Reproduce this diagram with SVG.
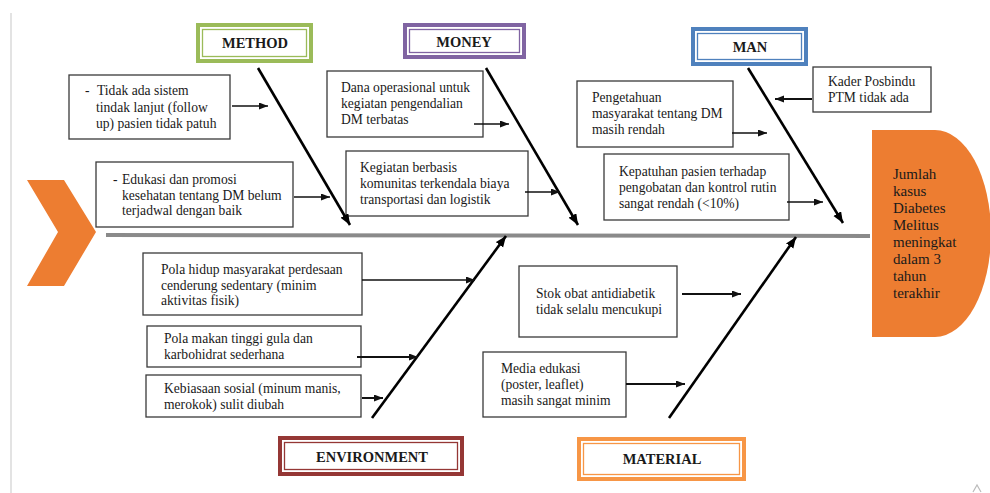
<svg xmlns="http://www.w3.org/2000/svg" width="990" height="493" viewBox="0 0 990 493">
<defs>
<style>
.t{font-family:"Liberation Serif","Times New Roman",serif;font-size:13.6px;fill:#1a1a1a}
.h{font-family:"Liberation Serif","Times New Roman",serif;font-size:15px;fill:#1a1a1a}
.cat{font-family:"Liberation Serif","Times New Roman",serif;font-size:14.5px;font-weight:bold;fill:#1a1a1a;text-anchor:middle}
.box{fill:#fff;stroke:#3a3a3a;stroke-width:1.3}
.ar{fill:none;stroke:#111;stroke-width:1.3;marker-end:url(#sa)}
.bone{fill:none;stroke:#000;stroke-width:2.6;marker-end:url(#ba)}
.w{fill:#fff}
</style>
<marker id="sa" markerUnits="userSpaceOnUse" markerWidth="10" markerHeight="8" refX="9" refY="3.5" orient="auto"><path d="M0,0 L9,3.5 L0,7 z" fill="#111"/></marker>
<marker id="ba" markerUnits="userSpaceOnUse" markerWidth="12" markerHeight="10" refX="11" refY="4.5" orient="auto"><path d="M0,0 L11,4.5 L0,9 z" fill="#000"/></marker>
</defs>
<rect width="990" height="493" fill="#fff"/>
<line x1="11" y1="13" x2="11" y2="493" stroke="#d0d0d0" stroke-width="1.2"/>
<polyline points="973,492 977,485 981,492" fill="none" stroke="#bbb" stroke-width="1.2"/>

<g id="tail"><polygon points="27,180 64,180 96,232 64,286 27,286 58,232" fill="#ED7D31"/></g>
<g id="spine"><line x1="106" y1="235" x2="870" y2="236" stroke="#8a8a8a" stroke-width="4"/></g>

<g id="head">
<path d="M872,130 H935 A56,103.5 0 0 1 935,337 H872 Z" fill="#ED7D31"/>
<text class="h" x="893"><tspan x="893" y="179">Jumlah</tspan><tspan x="893" y="196">kasus</tspan><tspan x="893" y="213">Diabetes</tspan><tspan x="893" y="230">Melitus</tspan><tspan x="893" y="247">meningkat</tspan><tspan x="893" y="264">dalam 3</tspan><tspan x="893" y="281">tahun</tspan><tspan x="893" y="298">terakhir</tspan></text>
</g>

<g id="cat-method">
<rect x="198" y="25" width="113" height="36" class="w" stroke="#9BBB59" stroke-width="4"/>
<rect x="202.5" y="29.5" width="104" height="27" fill="none" stroke="#9BBB59" stroke-width="1.3"/>
<text class="cat" x="255" y="48">METHOD</text>
</g>
<g id="cat-money">
<rect x="405" y="25" width="119" height="32" class="w" stroke="#8064A2" stroke-width="4"/>
<rect x="409.5" y="29.5" width="110" height="23" fill="none" stroke="#8064A2" stroke-width="1.3"/>
<text class="cat" x="464" y="47">MONEY</text>
</g>
<g id="cat-man">
<rect x="693" y="29" width="113" height="35" class="w" stroke="#4F81BD" stroke-width="4"/>
<rect x="697.5" y="33.5" width="104" height="26" fill="none" stroke="#4F81BD" stroke-width="1.3"/>
<text class="cat" x="750" y="52">MAN</text>
</g>
<g id="cat-environment">
<rect x="280" y="438" width="182" height="36" class="w" stroke="#953735" stroke-width="4"/>
<rect x="284.5" y="442.5" width="173" height="27" fill="none" stroke="#953735" stroke-width="1.3"/>
<text class="cat" x="372" y="462">ENVIRONMENT</text>
</g>
<g id="cat-material">
<rect x="579" y="439" width="165" height="40" class="w" stroke="#F79646" stroke-width="4"/>
<rect x="583.5" y="443.5" width="156" height="31" fill="none" stroke="#F79646" stroke-width="1.3"/>
<text class="cat" x="662" y="464">MATERIAL</text>
</g>

<g id="c-method-1">
<rect x="69" y="75" width="161" height="64" class="box"/>
<text class="t"><tspan x="85" y="95">-</tspan><tspan x="97" y="95">Tidak ada sistem</tspan><tspan x="96" y="112">tindak lanjut (follow</tspan><tspan x="96" y="128">up) pasien tidak patuh</tspan></text>
</g>
<g id="c-method-2">
<rect x="96" y="162" width="197" height="65" class="box"/>
<text class="t"><tspan x="113" y="184">-</tspan><tspan x="122" y="184">Edukasi dan promosi</tspan><tspan x="122" y="200">kesehatan tentang DM belum</tspan><tspan x="122" y="215">terjadwal dengan baik</tspan></text>
</g>
<g id="c-money-1">
<rect x="327" y="71" width="156" height="66" class="box"/>
<text class="t"><tspan x="341" y="92">Dana operasional untuk</tspan><tspan x="341" y="108">kegiatan pengendalian</tspan><tspan x="341" y="124">DM terbatas</tspan></text>
</g>
<g id="c-money-2">
<rect x="346" y="151" width="182" height="65" class="box"/>
<text class="t"><tspan x="360" y="172">Kegiatan berbasis</tspan><tspan x="360" y="188">komunitas terkendala biaya</tspan><tspan x="360" y="204">transportasi dan logistik</tspan></text>
</g>
<g id="c-man-1">
<rect x="577" y="81" width="156" height="66" class="box"/>
<text class="t"><tspan x="592" y="102">Pengetahuan</tspan><tspan x="592" y="118">masyarakat tentang DM</tspan><tspan x="592" y="134">masih rendah</tspan></text>
</g>
<g id="c-man-2">
<rect x="604" y="154" width="185" height="66" class="box"/>
<text class="t"><tspan x="619" y="176">Kepatuhan pasien terhadap</tspan><tspan x="619" y="192">pengobatan dan kontrol rutin</tspan><tspan x="619" y="208">sangat rendah (&lt;10%)</tspan></text>
</g>
<g id="c-man-3">
<rect x="813" y="67" width="118" height="45" class="box"/>
<text class="t"><tspan x="828" y="86">Kader Posbindu</tspan><tspan x="828" y="102">PTM tidak ada</tspan></text>
</g>
<g id="c-env-1">
<rect x="143" y="253" width="219" height="62" class="box"/>
<text class="t"><tspan x="161" y="274">Pola hidup masyarakat perdesaan</tspan><tspan x="161" y="290">cenderung sedentary (minim</tspan><tspan x="161" y="305">aktivitas fisik)</tspan></text>
</g>
<g id="c-env-2">
<rect x="147" y="326" width="214" height="41" class="box"/>
<text class="t"><tspan x="164" y="343">Pola makan tinggi gula dan</tspan><tspan x="164" y="359">karbohidrat sederhana</tspan></text>
</g>
<g id="c-env-3">
<rect x="146" y="375" width="215" height="42" class="box"/>
<text class="t"><tspan x="164" y="393">Kebiasaan sosial (minum manis,</tspan><tspan x="164" y="409">merokok) sulit diubah</tspan></text>
</g>
<g id="c-mat-1">
<rect x="519" y="266" width="158" height="71" class="box"/>
<text class="t"><tspan x="536" y="298">Stok obat antidiabetik</tspan><tspan x="536" y="314">tidak selalu mencukupi</tspan></text>
</g>
<g id="c-mat-2">
<rect x="483" y="352" width="143" height="65" class="box"/>
<text class="t"><tspan x="501" y="373">Media edukasi</tspan><tspan x="501" y="389">(poster, leaflet)</tspan><tspan x="501" y="405">masih sangat minim</tspan></text>
</g>

<g id="connectors">
<line class="bone" x1="258" y1="68" x2="350" y2="225"/>
<line class="bone" x1="486" y1="68" x2="578" y2="225"/>
<line class="bone" x1="748" y1="68" x2="843" y2="223"/>
<line class="bone" x1="372" y1="418" x2="506" y2="236"/>
<line class="bone" x1="669" y1="418" x2="796" y2="237"/>
<line class="ar" x1="232" y1="106" x2="268" y2="106"/>
<line class="ar" x1="294" y1="197" x2="330" y2="197"/>
<line class="ar" x1="474" y1="124" x2="509" y2="124"/>
<line class="ar" x1="525" y1="192" x2="560" y2="192"/>
<line class="ar" x1="732" y1="133" x2="767" y2="133"/>
<line class="ar" x1="787" y1="202" x2="823" y2="202"/>
<line class="ar" x1="812" y1="99" x2="775" y2="99" style="stroke-width:2"/>
<line class="ar" x1="362" y1="280" x2="475" y2="280"/>
<line class="ar" x1="357" y1="357" x2="418" y2="357" style="stroke-width:2"/>
<line class="ar" x1="362" y1="398" x2="383" y2="398" style="stroke-width:2"/>
<line class="ar" x1="682" y1="294" x2="741" y2="294" style="stroke-width:2"/>
<line class="ar" x1="626" y1="384" x2="685" y2="384" style="stroke-width:2"/>
</g>
</svg>
